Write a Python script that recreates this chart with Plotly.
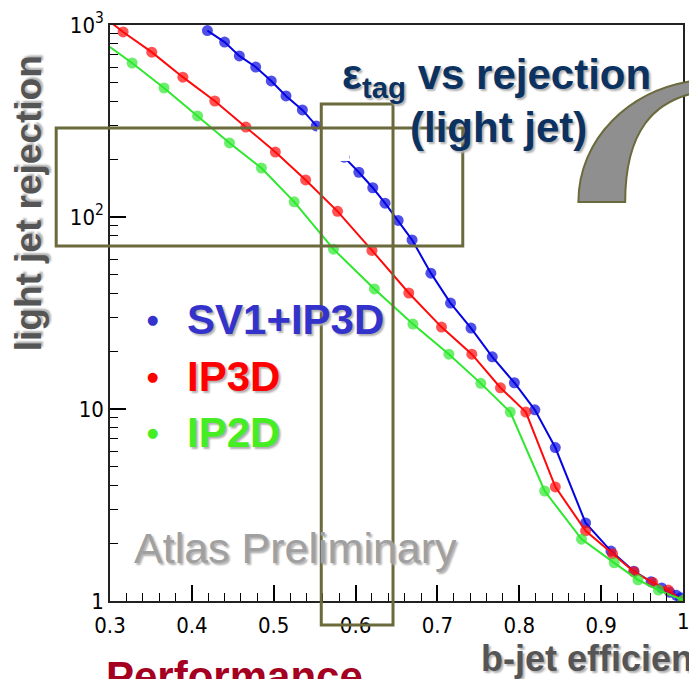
import plotly.graph_objects as go

# ---------------- data ----------------
blue_x = [0.419, 0.440, 0.458, 0.478, 0.497, 0.515, 0.535, 0.552, 0.569, 0.586,
          0.604, 0.621, 0.636, 0.652, 0.669, 0.692, 0.716, 0.741, 0.767, 0.794,
          0.819, 0.844, 0.881, 0.912, 0.940, 0.961, 0.974, 0.984, 0.992, 0.997]
blue_y = [935, 815, 690, 604, 511, 427, 361, 298, 246, 205,
          171, 142, 118, 96, 76, 51, 35.6, 26.4, 18.7, 13.7,
          9.9, 6.3, 2.55, 1.82, 1.43, 1.26, 1.17, 1.11, 1.07, 1.04]

red_x = [0.300, 0.316, 0.351, 0.389, 0.428, 0.466, 0.502, 0.539, 0.578, 0.620,
         0.665, 0.705, 0.742, 0.777, 0.808, 0.844, 0.881, 0.914, 0.940, 0.963,
         0.982, 1.000]
red_y = [1040, 920, 722, 535, 402, 294, 218, 156, 107, 67,
         40.2, 26.7, 19.3, 12.9, 9.64, 3.93, 2.32, 1.76, 1.42, 1.25,
         1.14, 1.00]

green_x = [0.300, 0.327, 0.366, 0.407, 0.446, 0.485, 0.525, 0.573, 0.623, 0.670,
           0.714, 0.753, 0.789, 0.831, 0.876, 0.916, 0.945, 0.970, 1.000]
green_y = [768, 634, 470, 336, 243, 180, 120, 68, 42.2, 27.7,
           19.3, 13.6, 9.64, 3.74, 2.10, 1.58, 1.29, 1.14, 1.01]

series_names = ["SV1+IP3D", "IP3D", "IP2D"]
line_colors = ["#0505e0", "#ff0a0a", "#2ee82e"]
legend_colors = ["#3333cc", "#ff0000", "#44ee22"]

x_tickvals = [0.3, 0.4, 0.5, 0.6, 0.7, 0.8, 0.9, 1.0]
x_ticktext = ["0.3", "0.4", "0.5", "0.6", "0.7", "0.8", "0.9", "1"]
y_tickvals = [1, 10, 100, 1000]
y_ticktext = ["1", "10", "10<sup>2</sup>", "10<sup>3</sup>"]

# ---------------- layout helpers (pixel -> paper) ----------------
W, H = 689, 679
L, R, T, B = 110, 685, 25, 601


def px(x):
    return (x - L) / (R - L)


def py(y):
    return (B - y) / (B - T)


fig = go.Figure()

for xs, ys, name, col in zip([blue_x, red_x, green_x], [blue_y, red_y, green_y],
                             series_names, line_colors):
    sizes = [0 if x <= 0.3 else 11 for x in xs]
    fig.add_trace(go.Scatter(x=xs, y=ys, mode="lines+markers", name=name,
                             line=dict(color=col, width=2),
                             marker=dict(color=col, size=sizes, line=dict(width=0)),
                             showlegend=False))

tick_font = dict(family="Liberation Sans Narrow, DejaVu Sans Condensed, Arial Narrow, sans-serif",
                 size=22, color="black")

fig.update_layout(
    width=W, height=H,
    margin=dict(l=L, r=W - R, t=T, b=H - B),
    paper_bgcolor="white", plot_bgcolor="white",
    xaxis=dict(range=[0.3, 1.0], tickvals=x_tickvals, ticktext=x_ticktext,
               ticks="inside", ticklen=16, tickwidth=1.5, tickcolor="black",
               showgrid=False, zeroline=False, showline=True, linecolor="#222",
               linewidth=1.5, mirror=True, tickfont=tick_font, ticklabelstandoff=4,
               minor=dict(dtick=0.02, ticks="inside", ticklen=8, tickcolor="black",
                          tickwidth=1.2, showgrid=False)),
    yaxis=dict(type="log", range=[0, 3], tickvals=y_tickvals, ticktext=y_ticktext,
               ticks="inside", ticklen=16, tickwidth=1.5, tickcolor="black",
               showgrid=False, zeroline=False, showline=True, linecolor="#222",
               linewidth=1.5, mirror=True, tickfont=tick_font,
               minor=dict(tickvals=[m * 10 ** k for k in range(3) for m in range(2, 10)],
                          ticks="inside", ticklen=8, tickcolor="black", tickwidth=1.2,
                          showgrid=False)),
)

shapes = []
# white box that hides part of the blue curve
shapes.append(dict(type="rect", xref="paper", yref="paper", layer="above",
                   x0=px(318), x1=px(350), y0=py(129), y1=py(161),
                   fillcolor="white", line=dict(width=0)))
olive = "#6b6a3c"
shapes.append(dict(type="rect", xref="paper", yref="paper", layer="above",
                   x0=px(56), x1=px(464), y0=py(128), y1=py(246),
                   line=dict(color=olive, width=3), fillcolor="rgba(0,0,0,0)"))
shapes.append(dict(type="rect", xref="paper", yref="paper", layer="above",
                   x0=px(322), x1=px(394), y0=py(104), y1=py(625),
                   line=dict(color=olive, width=3), fillcolor="rgba(0,0,0,0)"))


def pth(pts):
    out = []
    for cmd, coords in pts:
        s = cmd
        if coords:
            s += " ".join(f"{px(a):.4f},{py(b):.4f}" for a, b in coords)
        out.append(s)
    return " ".join(out)


arc = pth([("M", [(580, 202)]),
           ("C", [(580, 140), (630, 88), (702, 80)]),
           ("L", [(702, 92)]),
           ("C", [(655, 100), (627, 132), (627, 202)]),
           ("Z", [])])
shapes.append(dict(type="path", xref="paper", yref="paper", layer="above", path=arc,
                   fillcolor="#8f8f8f", line=dict(color=olive, width=2)))
fig.update_layout(shapes=shapes)

sans = "Liberation Sans, Arial, sans-serif"
shadow = "2px 2px 2px #b0b0b0"
ann = []
# y-axis title
ann.append(dict(text="<b>light jet rejection</b>", x=px(28), y=py(203), xref="paper", yref="paper",
                textangle=-90, showarrow=False, xanchor="center", yanchor="middle",
                font=dict(family=sans, size=37, color="#555555", shadow=shadow)))
# title
ann.append(dict(text="<b>ε<sub>tag</sub> vs rejection</b>", x=px(498), y=py(78), xref="paper",
                yref="paper", showarrow=False, xanchor="center", yanchor="middle",
                font=dict(family=sans, size=42, color="#0b3261", shadow=shadow)))
ann.append(dict(text="<b>(light jet)</b>", x=px(500), y=py(127), xref="paper", yref="paper",
                showarrow=False, xanchor="center", yanchor="middle",
                font=dict(family=sans, size=42, color="#0b3261", shadow=shadow)))
# legend
for i, (name, col) in enumerate(zip(series_names, legend_colors)):
    yc = 319 + 57 * i
    ann.append(dict(text="●", x=px(153), y=py(yc), xref="paper", yref="paper",
                    showarrow=False, xanchor="center", yanchor="middle",
                    font=dict(family="DejaVu Sans", size=13, color=col)))
    ann.append(dict(text=f"<b>{name}</b>", x=px(185), y=py(yc), xref="paper", yref="paper",
                    showarrow=False, xanchor="left", yanchor="middle",
                    font=dict(family=sans, size=42, color=col, shadow=shadow)))
# Atlas Preliminary
ann.append(dict(text="Atlas Preliminary", x=px(296), y=py(548), xref="paper", yref="paper",
                showarrow=False, xanchor="center", yanchor="middle",
                font=dict(family=sans, size=43, color="#a0a0a0", shadow=shadow)))
# last x tick label, cut by the picture edge as in the reference
ann.append(dict(text="1", x=px(685), y=py(621), xref="paper", yref="paper",
                showarrow=False, xanchor="center", yanchor="middle", font=tick_font))
# bottom texts
ann.append(dict(text="<b>Performance</b>", x=px(104), y=py(676), xref="paper", yref="paper",
                showarrow=False, xanchor="left", yanchor="middle",
                font=dict(family=sans, size=42, color="#a50021")))
ann.append(dict(text="<b>b-jet efficiency</b>", x=px(480), y=py(658), xref="paper", yref="paper",
                showarrow=False, xanchor="left", yanchor="middle",
                font=dict(family=sans, size=36, color="#555555", shadow=shadow)))
fig.update_layout(annotations=ann)

fig.write_html("out.html")
